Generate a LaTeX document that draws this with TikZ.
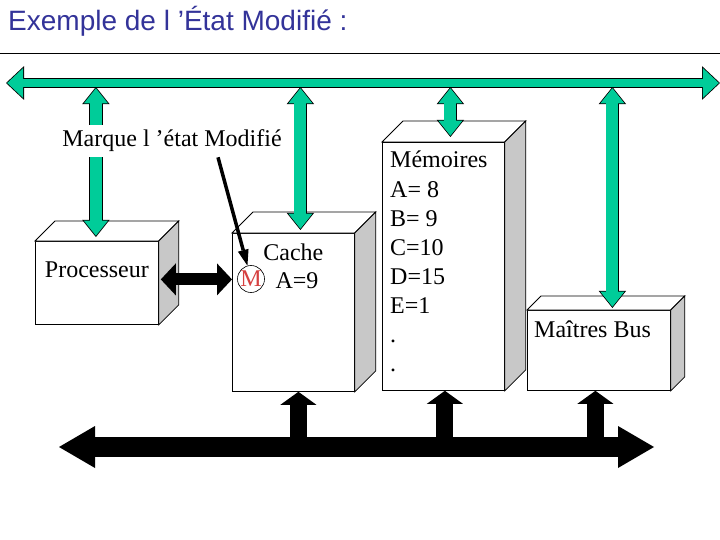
\documentclass[tikz,border=0pt]{standalone}
\usepackage{fontspec}
\setmainfont{Liberation Serif}
\newfontfamily\titrefont{Liberation Sans}
\usetikzlibrary{arrows.meta, calc, positioning}
\definecolor{vert}{RGB}{0,204,153}
\definecolor{gris}{RGB}{200,200,200}
\definecolor{titre}{RGB}{51,51,153}
\definecolor{rougeM}{RGB}{214,64,64}

\begin{document}
\begin{tikzpicture}[
        x=1pt, y=-1pt,
        boite/.style={draw=black, line width=0.8pt, fill=white, inner sep=0pt},
        face/.style={draw=black, line width=0.8pt, fill=#1},
        texte/.style={font=\fontsize{24}{29}\selectfont, inner sep=0pt},
        bloc/.style n args={3}{line width=#1,
            arrows={Triangle[width=#2,length=#3,line width=0pt]-Triangle[width=#2,length=#3,line width=0pt]}},
        monte/.style={line width=17pt,
            arrows={-Triangle[width=36pt,length=13pt,line width=0pt]}},
        contour/.style={draw=black},
        vcont/.style={contour, bloc={13.6pt}{27.4pt}{17.1pt}},
        vplein/.style={draw=vert, bloc={12pt}{24pt}{15pt}, shorten <=1.3pt, shorten >=1.3pt},
        noir/.style={draw=black},
    ]
    \useasboundingbox (0,0) rectangle (720,540);

    % titre
    \node[font=\titrefont\fontsize{28}{34}\selectfont, text=titre, inner sep=0pt,
          anchor=base west] (titre) at (8,31) {Exemple de l ’État Modifié :};
    \draw[line width=1.2pt] (0,53.5) -- (720,53.5);

    % boites (face avant)
    \node[boite, minimum width=123pt, minimum height=83pt, anchor=north west] (proc) at (35,241) {};
    \node[boite, minimum width=122pt, minimum height=158pt, anchor=north west] (cache) at (232,233) {};
    \node[boite, minimum width=122pt, minimum height=248pt, anchor=north west] (mem) at (382,142) {};
    \node[boite, minimum width=143pt, minimum height=80pt, anchor=north west] (maitres) at (527,310) {};

    % dessus et cote
    \foreach \b/\p in {proc/20, cache/21, mem/21, maitres/14} {
        \draw[face=white] (\b.north west) -- ++(\p,-\p) -- ($(\b.north east)+(\p,-\p)$)
            -- (\b.north east) -- cycle;
        \draw[face=gris] (\b.north east) -- ++(\p,-\p) -- ($(\b.south east)+(\p,-\p)$)
            -- (\b.south east) -- cycle;
    }

    % textes
    \node[texte, below=21pt of proc.north] (tproc) {Processeur};
    \node[texte, below=11pt of cache.north] (tcache) {Cache};
    \node[texte, circle, draw=black, line width=0.6pt, minimum size=27pt] (mcercle)
        at (251,279) {\textcolor{rougeM}{M}};
    \node[texte, anchor=base west] (a9) at ($(mcercle.east)+(10.5,9)$) {A=9};
    \foreach \t [count=\i from 0] in {Mémoires, A= 8, B= 9, C=10, D=15, E=1, ., .}
        \node[texte, anchor=base west] (mem\i) at ($(mem.north west)+(8,26+29*\i)$) {\t};
    \node[texte, anchor=base west] (tmaitres) at ($(maitres.north west)+(7,27)$) {Maîtres Bus};

    % bus vert
    \coordinate (vG) at (6,83);
    \coordinate (vD) at (720,83);
    \draw[contour, bloc={9.6pt}{33.8pt}{18pt}] (vG) -- (vD);
    \draw[draw=vert, bloc={8pt}{30pt}{16pt}, shorten <=1.2pt, shorten >=1.2pt] (vG) -- (vD);
    \foreach \b/\dx/\dy in {proc/-1/4, cache/7/3, mem/7/5, maitres/13.5/2} {
        \draw[vcont] ($(\b.north |- vG)+(\dx,4)$) -- ($(\b.north)+(\dx,-\dy)$);
        \draw[vplein] ($(\b.north |- vG)+(\dx,4)$) -- ($(\b.north)+(\dx,-\dy)$);
    }

    % bus noir
    \coordinate (nG) at (59,447);
    \coordinate (nD) at (654,447);
    \draw[noir, bloc={20pt}{42pt}{36pt}] (nG) -- (nD);
    \foreach \b/\dx in {cache/5, mem/1.5, maitres/-3.5}
        \draw[noir, monte] ($(\b.south |- nG)+(\dx,0)$) -- ($(\b.south)+(\dx,0)$);

    % processeur <-> cache
    \coordinate (pc) at ($(proc.east)+(2,-3.5)$);
    \draw[noir, bloc={12pt}{32pt}{15pt}] (pc) -- (pc -| cache.west);

    % etiquette
    \node[texte, fill=white, inner sep=5pt, anchor=base] (marque) at (172,147)
        {Marque l ’état Modifié};
    \draw[line width=3.5pt, -{Triangle[width=11pt,length=16pt,line width=0pt]}]
        ($(marque.south)+(46,0)$) -- (mcercle.105);
\end{tikzpicture}
\end{document}
